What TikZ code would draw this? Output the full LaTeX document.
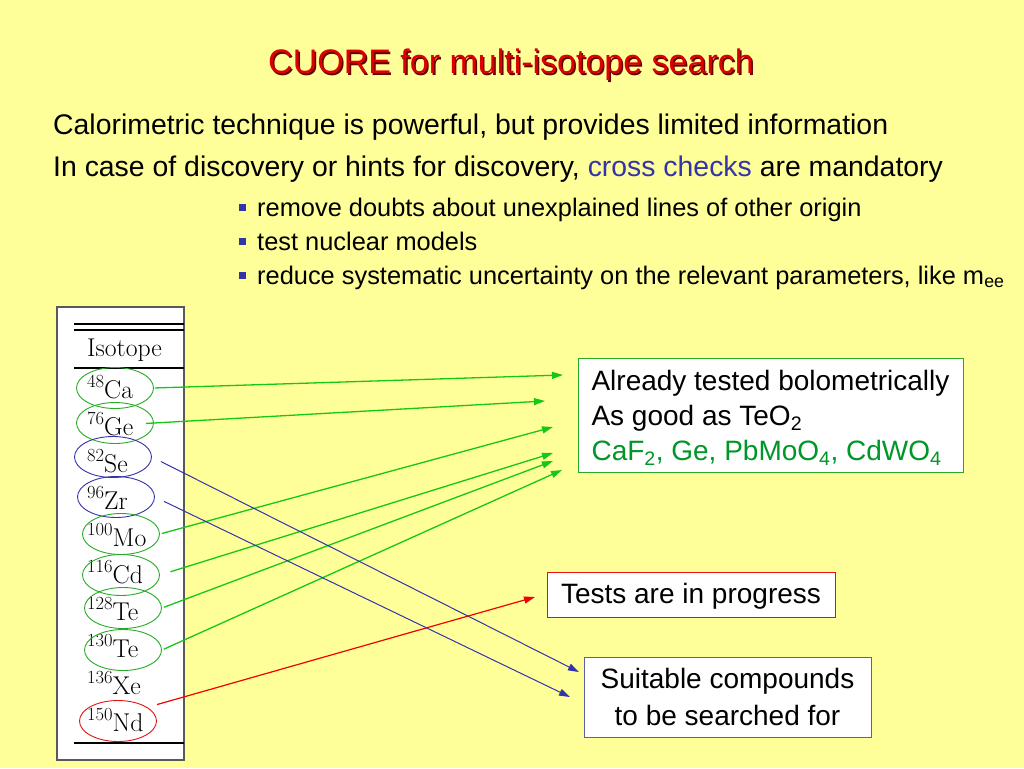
\documentclass[tikz,border=0pt]{standalone}
\usepackage{fontspec}
\newfontfamily\slidefont{Liberation Sans}
\usetikzlibrary{shapes.geometric,arrows.meta,positioning}
\definecolor{slidebg}{RGB}{255,255,153}
\definecolor{titlered}{RGB}{221,0,0}
\definecolor{crossblue}{RGB}{51,51,170}
\definecolor{arrowgreen}{RGB}{20,200,20}
\definecolor{ringgreen}{RGB}{40,170,40}
\definecolor{textgreen}{RGB}{0,150,40}
\definecolor{ringblue}{RGB}{51,51,170}
\definecolor{boxblue}{RGB}{95,95,165}
\definecolor{ringred}{RGB}{225,20,20}
\newcommand\isosup[1]{\raisebox{10.5pt}{\fontsize{18.5}{19}\selectfont #1}}

\begin{document}
\begin{tikzpicture}[x=1pt,y=-1pt]

  \tikzset{slide text/.style={font=\slidefont\fontsize{28.4}{34}\selectfont,
  		inner sep=0pt, anchor=base west}, }
  \tikzset{bullet text/.style={font=\slidefont\fontsize{25.4}{30}\selectfont,
  		inner sep=0pt, anchor=base west}, }
  \tikzset{iso text/.style={font=\fontsize{25.7}{30}\selectfont,
  		inner sep=0pt, anchor=base west}, }
  \tikzset{ring/.style={ellipse, draw, line width=0.9pt,
  		minimum width=77pt, minimum height=41pt, inner sep=0pt}, }
  \tikzset{result box/.style={rectangle, draw, fill=white, line width=1pt,
  		font=\slidefont\fontsize{28}{35}\selectfont}, }
  \tikzset{linea/.style={-{Triangle[length=11pt,width=7pt]}, line width=1.3pt}, }

  \fill[slidebg] (0,0) rectangle (1024,768);
  \useasboundingbox (0,0) rectangle (1024,768);

    \node[font=\slidefont\fontsize{34}{40}\selectfont, text=black!55!titlered, anchor=base,
      inner sep=0pt] (shadow) at (512.5,75.5) {CUORE for multi-isotope search};
    \node[font=\slidefont\fontsize{34}{40}\selectfont, text=titlered, anchor=base,
      inner sep=0pt] (title) at (511,74) {CUORE for multi-isotope search};

    \node[slide text] (line1) at (53,134) {Calorimetric technique is powerful, but provides limited information};
    \node[slide text] (line2) at (53,176) {In case of discovery or hints for discovery,
      \textcolor{crossblue}{cross checks} are mandatory};

\foreach \y/\t in {216/{remove doubts about unexplained lines of other origin},
    250/{test nuclear models},
    284/{reduce systematic uncertainty on the relevant parameters, like m\textsubscript{ee}}}
  {
  \fill[crossblue] (239,\y-12) rectangle (246,\y-5);
  \node[bullet text] at (257,\y) {\t};
  }

  % isotope table
  \draw[fill=white, draw=black!65, line width=1.2pt] (57,307) rectangle (184,760);
  \draw[line width=2pt] (74,324) -- (184,324) (74,329.5) -- (184,329.5);
  \draw[line width=2.5pt] (74,368) -- (184,368) (74,743) -- (184,743);
    \node[iso text] (head) at (87,356) {Isotope};

\foreach \n/\m/\e [count=\i from 0] in {ca/48/Ca,ge/76/Ge,se/82/Se,zr/96/Zr,mo/100/Mo,
    cd/116/Cd,tea/128/Te,teb/130/Te,xe/136/Xe,nd/150/Nd}
  \node[iso text] (\n) at (87,{398+37*\i}) {\isosup{\m}\e};

\foreach \n/\x/\y/\c in {ca/115/388/ringgreen,ge/115/423/ringgreen,se/113/457/ringblue,
    zr/116/497/ringblue,mo/121/534/ringgreen,cd/121/575/ringgreen,tea/123/608/ringgreen,
    teb/123/650/ringgreen,nd/118/721/ringred}
  \node[ring, draw=\c] (r\n) at (\x,\y) {};

  % result boxes
    \node[result box, draw=ringgreen, minimum width=385pt, minimum height=114pt,
      align=left, text depth=0pt] (tested) at (770.5,415) {Already tested bolometrically\\
      As good as TeO\textsubscript{2}\\
      \textcolor{textgreen}{CaF\textsubscript{2}, Ge, PbMoO\textsubscript{4}, CdWO\textsubscript{4}}};
    \node[result box, draw=ringred, minimum width=288pt, minimum height=45pt,
      text depth=3pt] (progress) at (691,594.5) {Tests are in progress};
    \node[result box, draw=boxblue, minimum width=287pt, minimum height=80pt,
      align=center, font=\slidefont\fontsize{28}{37}\selectfont]
      (compounds) at (727.5,697) {Suitable compounds\\ to be searched for};

    \coordinate (g1) at (563,375);
    \coordinate (g2) at (545,401);
    \coordinate (g3) at (553,427);
    \coordinate (g4) at (553,453);
    \coordinate (g5) at (553,461);
    \coordinate (g6) at (562,470);
    \coordinate (b1) at (579,672);
    \coordinate (b2) at (570,697);
    \coordinate (p1) at (535,597);

\foreach \x/\y/\s in {rca/g1/1,rge/g2/-8,rmo/g3/2,rcd/g4/11,rtea/g5/2,rteb/g6/2}
  \draw[linea, arrowgreen, shorten <=\s pt] (\x.east) -- (\y);
\foreach \x/\y in {rse/b1,rzr/b2}
  \draw[linea, line width=1pt, ringblue, shorten <=10pt] (\x.east) -- (\y);
  \draw[linea, line width=1.2pt, red!95!black, shorten <=10pt] (rnd.25) -- (p1);
%%
\end{tikzpicture}
\end{document}
